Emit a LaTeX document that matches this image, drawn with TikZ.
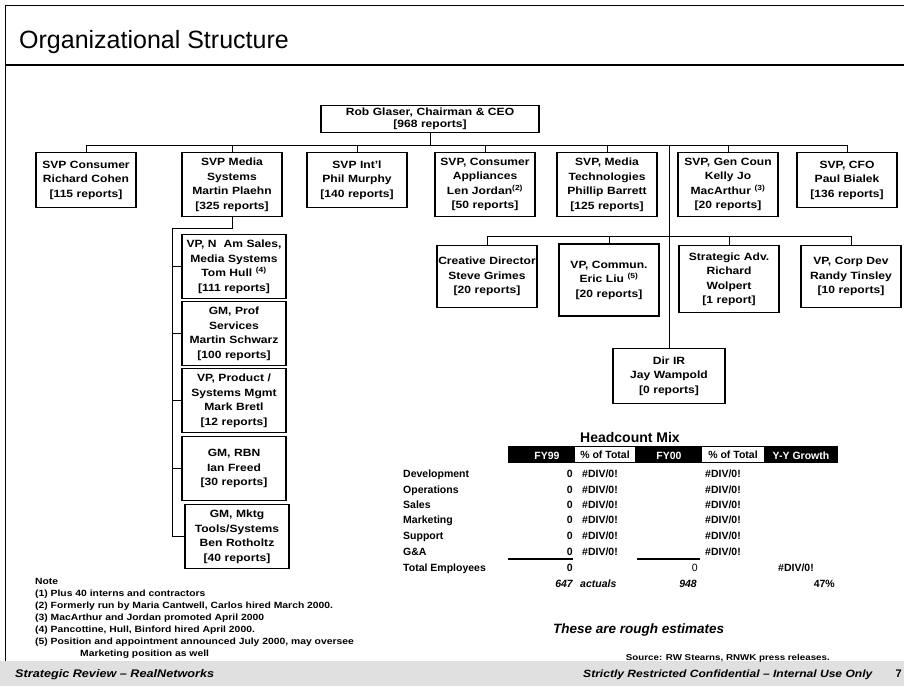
\documentclass[tikz,border=0pt]{standalone}
\usepackage{fontspec}
\setmainfont{Liberation Sans}
\newfontfamily\chartfont{Liberation Sans}[FakeStretch=1.15, Ligatures=TeX]

\begin{document}
\begin{tikzpicture}[x=1pt, y=-1pt,
  box/.style={draw, line width=1.1pt, fill=white, align=center, inner sep=0pt,
    text width=#1, anchor=north, font=\chartfont\bfseries\fontsize{10.5}{14.5}\selectfont},
  box/.default=100,
  tri/.style={minimum height=55pt},
  quad/.style={minimum height=64pt},
  wire/.style={line width=0.9pt},
  tcell/.style={inner sep=0pt, anchor=base east, font=\bfseries\fontsize{10.5}{12}\selectfont},
  tlabel/.style={inner sep=0pt, anchor=base west, font=\bfseries\fontsize{10.5}{12}\selectfont},
  thead/.style={inner sep=0pt, anchor=base, text=white, font=\bfseries\fontsize{10.5}{12}\selectfont}]
  \useasboundingbox (0,0) rectangle (904,686);
  \fill[black!12] (0,661) rectangle (904,686);
  \draw[line width=1pt] (5,661) -- (5,5) -- (904,5);
  \draw[line width=1.2pt] (5,65) -- (904,65);
  \node[anchor=base west, inner sep=0pt, font=\fontsize{25}{30}\selectfont] (title) at (19,48) {Organizational Structure};

  \node[box=218, minimum height=27pt, font=\chartfont\bfseries\fontsize{10.5}{12}\selectfont] (ceo) at (430,105) {Rob Glaser, Chairman \& CEO\\{[968 reports]}};

  \node[box, tri] (cons) at (86,152) {SVP Consumer\\Richard Cohen\\{[115 reports]}};
  \node[box, quad] (msys) at (232,152) {SVP Media\\Systems\\Martin Plaehn\\{[325 reports]}};
  \node[box, tri] (intl) at (357,152) {SVP Int'l\\Phil Murphy\\{[140 reports]}};
  \node[box, quad] (capp) at (485,152) {SVP, Consumer\\Appliances\\Len Jordan\textsuperscript{(2)}\\{[50 reports]}};
  \node[box, quad] (mtech) at (607,152) {SVP, Media\\Technologies\\Phillip Barrett\\{[125 reports]}};
  \node[box, quad] (gc) at (728,152) {SVP, Gen Coun\\Kelly Jo\\MacArthur \textsuperscript{(3)}\\{[20 reports]}};
  \node[box, tri] (cfo) at (847,152) {SVP, CFO\\Paul Bialek\\{[136 reports]}};

  \node[box=104, quad] (nam) at (234,234) {VP, N\ \ Am Sales,\\Media Systems\\Tom Hull \textsuperscript{(4)}\\{[111 reports]}};
  \node[box=104, quad] (prof) at (234,301) {GM, Prof\\Services\\Martin Schwarz\\{[100 reports]}};
  \node[box=104, quad] (prod) at (234,368) {VP, Product /\\Systems Mgmt\\Mark Bretl\\{[12 reports]}};
  \node[box=104, quad] (rbn) at (234,436) {GM, RBN\\Ian Freed\\{[30 reports]}};
  \node[box=104, quad] (mktg) at (237,504) {GM, Mktg\\Tools/Systems\\Ben Rotholtz\\{[40 reports]}};

  \node[box, minimum height=62pt] (crea) at (487,245) {Creative Director\\Steve Grimes\\{[20 reports]}};
  \node[box, minimum height=72pt, line width=2pt] (comm) at (609,243) {VP, Commun.\\Eric Liu \textsuperscript{(5)}\\{[20 reports]}};
  \node[box, minimum height=67pt] (adv) at (729,245) {Strategic Adv.\\Richard\\Wolpert\\{[1 report]}};
  \node[box, minimum height=62pt] (corp) at (851,245) {VP, Corp Dev\\Randy Tinsley\\{[10 reports]}};
  \node[box=112, tri] (dir) at (669,348) {Dir IR\\Jay Wampold\\{[0 reports]}};

  \coordinate (b1) at (86,145);
  \coordinate (c1) at (487,236);
  \coordinate (lc) at (172,228);
  \draw[wire] (ceo.south) -- (ceo.south |- b1);
  \draw[wire] (cons.north |- b1) -- (cfo.north |- b1);
  \draw[wire] (cons.north |- b1) -- (cons.north);
  \draw[wire] (msys.north |- b1) -- (msys.north);
  \draw[wire] (intl.north |- b1) -- (intl.north);
  \draw[wire] (capp.north |- b1) -- (capp.north);
  \draw[wire] (mtech.north |- b1) -- (mtech.north);
  \draw[wire] (gc.north |- b1) -- (gc.north);
  \draw[wire] (cfo.north |- b1) -- (cfo.north);
  \draw[wire] (dir.north |- b1) -- (dir.north);
  \draw[wire] (crea.north |- c1) -- (corp.north |- c1);
  \draw[wire] (crea.north |- c1) -- (crea.north);
  \draw[wire] (comm.north |- c1) -- (comm.north);
  \draw[wire] (adv.north |- c1) -- (adv.north);
  \draw[wire] (corp.north |- c1) -- (corp.north);
  \draw[wire] (msys.south) |- (lc) -- (lc |- mktg.west) -- (mktg.west);
  \draw[wire] (lc |- nam.west) -- (nam.west);
  \draw[wire] (lc |- prof.west) -- (prof.west);
  \draw[wire] (lc |- prod.west) -- (prod.west);
  \draw[wire] (lc |- rbn.west) -- (rbn.west);

  \node[anchor=base, inner sep=0pt, font=\bfseries\fontsize{14}{16}\selectfont] (hmix) at (630,442) {Headcount Mix};
  \fill[black] (508,446) rectangle (838,463);
  \node[thead] (h1) at (547,459) {FY99};
  \node[thead, fill=white, text=black, minimum width=60pt, minimum height=15pt, anchor=center] (h2) at (605,454.5) {\% of Total};
  \node[thead] (h3) at (669,459) {FY00};
  \node[thead, fill=white, text=black, minimum width=62pt, minimum height=15pt, anchor=center] (h4) at (733,454.5) {\% of Total};
  \node[thead] (h5) at (801,459) {Y-Y Growth};

  \node[tlabel] (l1) at (403,477) {Development};
  \node[tlabel] (l2) at (403,493) {Operations};
  \node[tlabel] (l3) at (403,508) {Sales};
  \node[tlabel] (l4) at (403,523) {Marketing};
  \node[tlabel] (l5) at (403,539) {Support};
  \node[tlabel] (l6) at (403,555) {G\&A};
  \node[tlabel] (l7) at (403,571) {Total Employees};
  \node[tcell] (v1) at (573,477) {0};
  \node[tcell] (v2) at (573,493) {0};
  \node[tcell] (v3) at (573,508) {0};
  \node[tcell] (v4) at (573,523) {0};
  \node[tcell] (v5) at (573,539) {0};
  \node[tcell] (v6) at (573,555) {0};
  \node[tcell] (v7) at (573,571) {0};
  \node[tlabel] (p1) at (582,477) {\#DIV/0!};
  \node[tlabel] (p2) at (582,493) {\#DIV/0!};
  \node[tlabel] (p3) at (582,508) {\#DIV/0!};
  \node[tlabel] (p4) at (582,523) {\#DIV/0!};
  \node[tlabel] (p5) at (582,539) {\#DIV/0!};
  \node[tlabel] (p6) at (582,555) {\#DIV/0!};
  \node[tlabel] (q1) at (705,477) {\#DIV/0!};
  \node[tlabel] (q2) at (705,493) {\#DIV/0!};
  \node[tlabel] (q3) at (705,508) {\#DIV/0!};
  \node[tlabel] (q4) at (705,523) {\#DIV/0!};
  \node[tlabel] (q5) at (705,539) {\#DIV/0!};
  \node[tlabel] (q6) at (705,555) {\#DIV/0!};
  \draw[line width=1.5pt] (508,559) -- (573,559);
  \draw[line width=1.5pt] (637,559) -- (700,559);
  \node[tcell, font=\fontsize{10.5}{12}\selectfont] (w7) at (698,571) {0};
  \node[tlabel] (g7) at (778,571) {\#DIV/0!};
  \node[tcell, font=\bfseries\itshape\fontsize{10.5}{12}\selectfont] (act) at (573,587) {647};
  \node[tlabel, font=\bfseries\itshape\fontsize{10.5}{12}\selectfont] (actl) at (580,587) {actuals};
  \node[tcell, font=\bfseries\itshape\fontsize{10.5}{12}\selectfont] (est0) at (697,587) {948};
  \node[tcell, font=\bfseries\fontsize{10.5}{12}\selectfont] (grow) at (835,587) {47\%};

  \node[anchor=north west, inner sep=0pt, align=left, font=\chartfont\bfseries\fontsize{9}{12}\selectfont] (notes) at (35,578) {Note\\(1) Plus 40 interns and contractors\\(2) Formerly run by Maria Cantwell, Carlos hired March 2000.\\(3) MacArthur and Jordan promoted April 2000\\(4) Pancottine, Hull, Binford hired April 2000.\\(5) Position and appointment announced July 2000, may oversee\\\hspace{45pt}Marketing position as well};

  \node[anchor=base west, inner sep=0pt, font=\bfseries\itshape\fontsize{13.5}{15}\selectfont] (rough) at (553,633) {These are rough estimates};
  \node[anchor=base east, inner sep=0pt, font=\chartfont\bfseries\fontsize{8.5}{10}\selectfont] (src) at (830,660) {Source: RW Stearns, RNWK press releases.};
  \node[anchor=base west, inner sep=0pt, font=\chartfont\bfseries\itshape\fontsize{11}{13}\selectfont] (foot1) at (15,677) {Strategic Review – RealNetworks};
  \node[anchor=base west, inner sep=0pt, font=\chartfont\bfseries\itshape\fontsize{10.5}{12}\selectfont] (foot2) at (583,677) {Strictly Restricted Confidential – Internal Use Only};
  \node[anchor=base east, inner sep=0pt, font=\bfseries\fontsize{11}{13}\selectfont] (page) at (902,677) {7};
\end{tikzpicture}
\end{document}
